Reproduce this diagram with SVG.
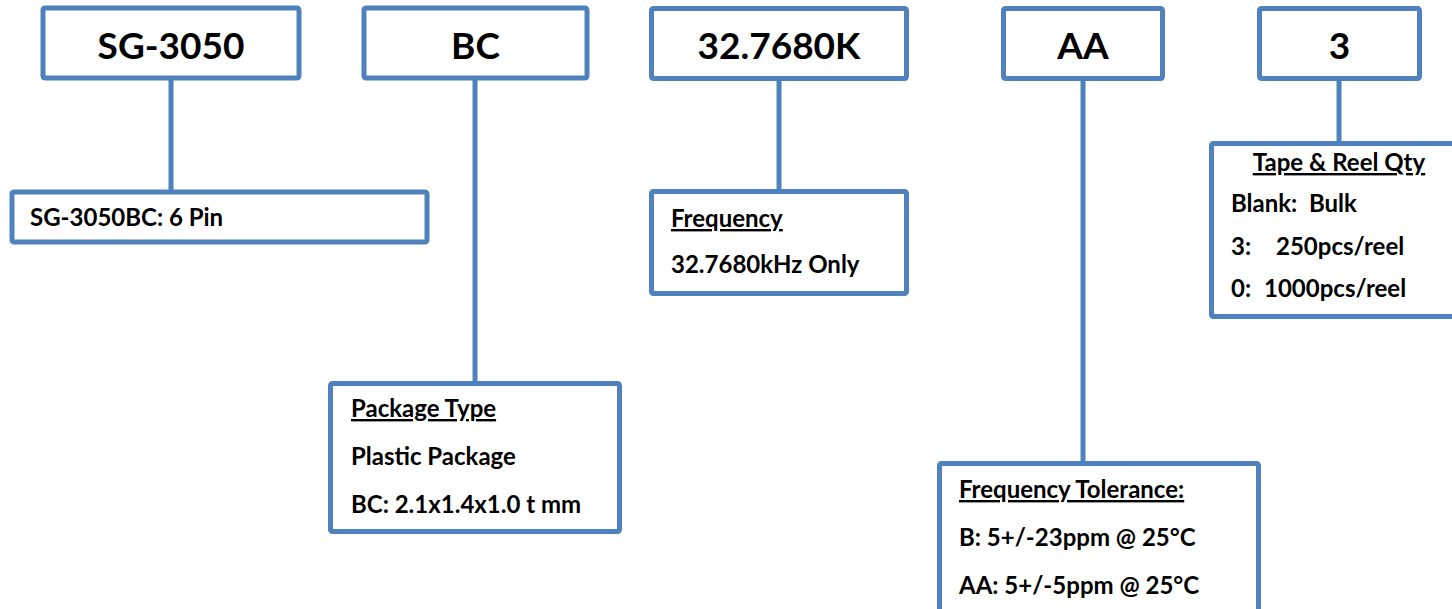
<svg xmlns="http://www.w3.org/2000/svg" width="1452" height="609" viewBox="0 0 1452 609">
<style>
.box{fill:#fff;stroke:#4F81BD;stroke-width:5;stroke-linejoin:round}
.con{stroke:#4F81BD;stroke-width:5;fill:none}
.big{font-family:Lato,"Liberation Sans",sans-serif;font-weight:bold;font-size:37px;fill:#000;text-anchor:middle}
.sm{font-family:Lato,"Liberation Sans",sans-serif;font-weight:bold;font-size:24px;fill:#000}
.u{text-decoration:underline}
</style>
<rect width="1452" height="609" fill="#fff"/>
<g id="connectors">
<line class="con" x1="171" y1="78" x2="171" y2="192"/>
<line class="con" x1="475" y1="78" x2="475" y2="383"/>
<line class="con" x1="779" y1="78" x2="779" y2="192"/>
<line class="con" x1="1083" y1="78" x2="1083" y2="463"/>
<line class="con" x1="1339" y1="78" x2="1339" y2="143"/>
</g>
<g id="n-sg3050">
<rect class="box" x="43" y="8" width="256" height="70" rx="2"/>
<text class="big" x="171" y="59">SG-3050</text>
</g>
<g id="n-bc">
<rect class="box" x="364" y="8" width="223" height="70" rx="2"/>
<text class="big" x="475.5" y="59">BC</text>
</g>
<g id="n-freq">
<rect class="box" x="651.5" y="8.5" width="255" height="70" rx="2"/>
<text class="big" x="779" y="59">32.7680K</text>
</g>
<g id="n-aa">
<rect class="box" x="1003.5" y="8.5" width="159" height="70" rx="2"/>
<text class="big" x="1083" y="59">AA</text>
</g>
<g id="n-3">
<rect class="box" x="1259.5" y="8.5" width="160" height="70" rx="2"/>
<text class="big" x="1339.5" y="59">3</text>
</g>
<g id="d-pin">
<rect class="box" x="12" y="192" width="415" height="50" rx="2"/>
<text class="sm" x="30" y="226">SG-3050BC: 6 Pin</text>
</g>
<g id="d-package">
<rect class="box" x="330.5" y="383.5" width="289" height="148" rx="2"/>
<text class="sm u" x="351" y="417">Package Type</text>
<text class="sm" x="351" y="465">Plastic Package</text>
<text class="sm" x="351" y="513">BC: 2.1x1.4x1.0 t mm</text>
</g>
<g id="d-frequency">
<rect class="box" x="651.5" y="191.5" width="255" height="102" rx="2"/>
<text class="sm u" x="671" y="227">Frequency</text>
<text class="sm" x="671" y="273">32.7680kHz Only</text>
</g>
<g id="d-tolerance">
<rect class="box" x="939.5" y="463.5" width="319" height="160" rx="2"/>
<text class="sm u" x="959" y="498">Frequency Tolerance:</text>
<text class="sm" x="959" y="546">B: 5+/-23ppm @ 25°C</text>
<text class="sm" x="959" y="594">AA: 5+/-5ppm @ 25°C</text>
</g>
<g id="d-tape">
<rect class="box" x="1211.5" y="143.5" width="260" height="173" rx="2"/>
<text class="sm u" x="1339" y="171" text-anchor="middle">Tape &amp; Reel Qty</text>
<text class="sm" x="1231" y="212" xml:space="preserve">Blank:  Bulk</text>
<text class="sm" x="1231" y="255">3:</text>
<text class="sm" x="1276" y="255">250pcs/reel</text>
<text class="sm" x="1231" y="297">0:</text>
<text class="sm" x="1264" y="297">1000pcs/reel</text>
</g>
</svg>
